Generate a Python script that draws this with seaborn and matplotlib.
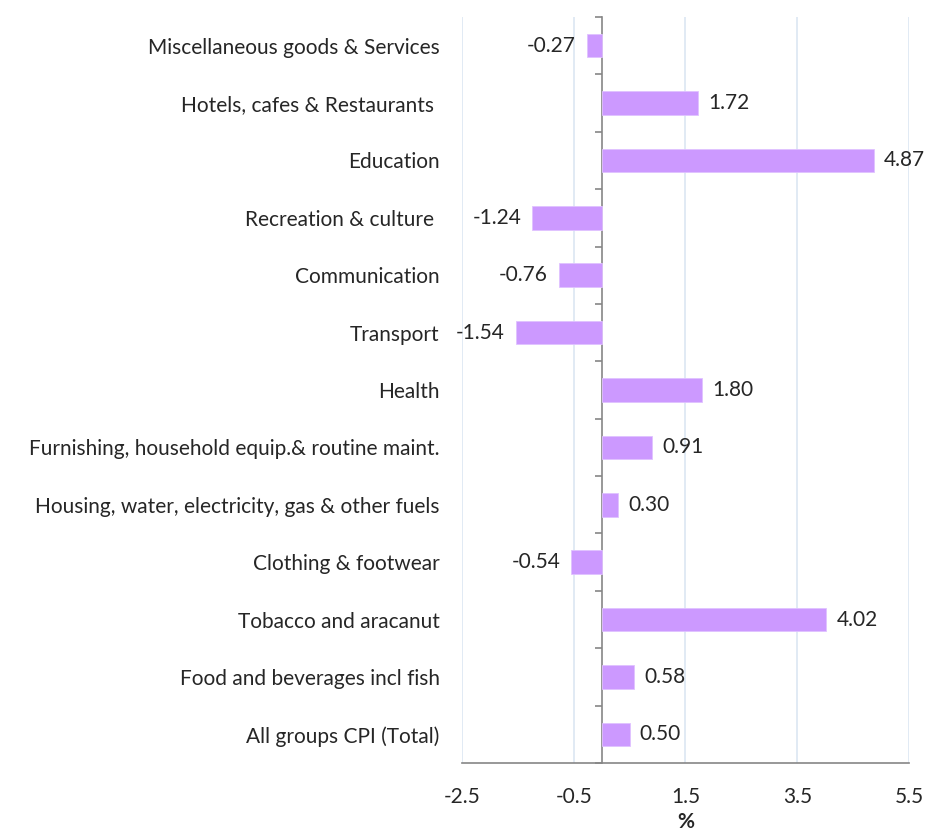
import numpy as np
import pandas as pd
import seaborn as sns
import matplotlib.pyplot as plt

# CPI change by group, top to bottom as shown
groups = [
    "Miscellaneous goods & Services",
    "Hotels, cafes & Restaurants ",
    "Education",
    "Recreation & culture ",
    "Communication",
    "Transport",
    "Health",
    "Furnishing, household equip.& routine maint.",
    "Housing, water, electricity, gas & other fuels",
    "Clothing & footwear",
    "Tobacco and aracanut",
    "Food and beverages incl fish",
    "All groups CPI (Total)",
]
change = [-0.27, 1.72, 4.87, -1.24, -0.76, -1.54, 1.80, 0.91, 0.30, -0.54, 4.02, 0.58, 0.50]
xticks = [-2.5, -0.5, 1.5, 3.5, 5.5]

df = pd.DataFrame({"group": groups, "change": change})

sns.set_style("white")
plt.rcParams["font.family"] = ["Lato", "DejaVu Sans"]
text_col = "#262626"
axis_col = "#868686"
fs = 15

fig = plt.figure(figsize=(9.28, 8.33), dpi=100)
ax = fig.add_axes([0.4978, 0.084, 0.4817, 0.8956])

sns.barplot(data=df, x="change", y="group", orient="h", color="#cc99ff",
            saturation=1, width=0.41, edgecolor="#e0c2ff", linewidth=0.6, ax=ax)

# data labels
for i, v in enumerate(change):
    if v >= 0:
        ax.text(v + 0.18, i, f"{v:.2f}", va="center", ha="left", fontsize=fs, color=text_col)
    else:
        ax.text(v - 0.2, i, f"{v:.2f}", va="center", ha="right", fontsize=fs, color=text_col)

ax.set_xlim(-2.5, 5.5)
ax.set_ylim(len(groups) - 0.5, -0.5)
ax.set_xticks(xticks)
ax.set_xticklabels([f"{t}" for t in xticks], fontsize=fs, color=text_col)
ax.tick_params(axis="x", length=5, width=1.2, color=axis_col, pad=12)
ax.tick_params(axis="y", length=0, pad=16, labelsize=fs, labelcolor=text_col)
ax.grid(axis="x", color="#dce6f2", lw=1.2)
ax.set_axisbelow(True)

for s in ["top", "right", "left"]:
    ax.spines[s].set_visible(False)
ax.spines["bottom"].set_color(axis_col)
ax.spines["bottom"].set_linewidth(1.2)

# vertical category axis sits at x = 0
zero_pos = (0 - (-2.5)) / (5.5 - (-2.5))
sec = ax.secondary_yaxis(zero_pos)
sec.set_yticks(np.arange(-0.5, len(groups), 1.0))
sec.set_yticklabels([])
sec.tick_params(length=5, width=1.2, color=axis_col, direction="out")
sec.spines["left"].set_color(axis_col)
sec.spines["left"].set_linewidth(1.2)

ax.set_xlabel("%", fontsize=fs, fontweight="bold", color=text_col, labelpad=4)
ax.set_ylabel("")

fig.savefig("out.png", dpi=100)
